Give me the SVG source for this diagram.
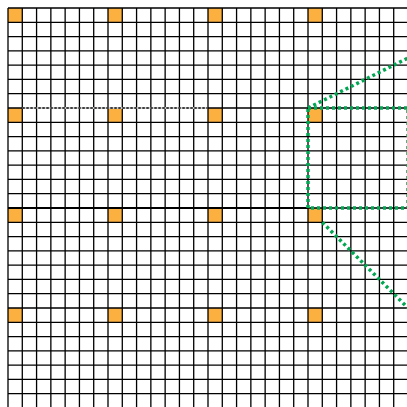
<svg xmlns="http://www.w3.org/2000/svg" width="407" height="407" viewBox="0 0 407 407">
<defs>
<style>
.cell{fill:#fbb040}
.grid{stroke:#000;stroke-width:1.3;fill:none}
.green{stroke:#00a651;stroke-width:3.5;stroke-dasharray:3 3;fill:none}
</style>
</defs>
<rect width="407" height="407" fill="#fff"/>
<g id="cells">
<rect class="cell" x="8" y="8" width="14.29" height="14.29"/>
<rect class="cell" x="108" y="8" width="14.29" height="14.29"/>
<rect class="cell" x="208" y="8" width="14.29" height="14.29"/>
<rect class="cell" x="308" y="8" width="14.29" height="14.29"/>
<rect class="cell" x="8" y="108" width="14.29" height="14.29"/>
<rect class="cell" x="108" y="108" width="14.29" height="14.29"/>
<rect class="cell" x="208" y="108" width="14.29" height="14.29"/>
<rect class="cell" x="308" y="108" width="14.29" height="14.29"/>
<rect class="cell" x="8" y="208" width="14.29" height="14.29"/>
<rect class="cell" x="108" y="208" width="14.29" height="14.29"/>
<rect class="cell" x="208" y="208" width="14.29" height="14.29"/>
<rect class="cell" x="308" y="208" width="14.29" height="14.29"/>
<rect class="cell" x="8" y="308" width="14.29" height="14.29"/>
<rect class="cell" x="108" y="308" width="14.29" height="14.29"/>
<rect class="cell" x="208" y="308" width="14.29" height="14.29"/>
<rect class="cell" x="308" y="308" width="14.29" height="14.29"/>
</g>
<g id="grid">
<path class="grid" d="M8 8V407M22.29 8V407M36.57 8V407M50.86 8V407M65.14 8V407M79.43 8V407M93.71 8V407M108 8V407M122.29 8V407M136.57 8V407M150.86 8V407M165.14 8V407M179.43 8V407M193.71 8V407M208 8V407M222.29 8V407M236.57 8V407M250.86 8V407M265.14 8V407M279.43 8V407M293.71 8V407M308 8V407M322.29 8V407M336.57 8V407M350.86 8V407M365.14 8V407M379.43 8V407M393.71 8V407"/>
<path class="grid" d="M8 8H407M8 22.29H407M8 36.57H407M8 50.86H407M8 65.14H407M8 79.43H407M8 93.71H407M8 108H407M8 122.29H407M8 136.57H407M8 150.86H407M8 165.14H407M8 179.43H407M8 193.71H407M8 208H407M8 222.29H407M8 236.57H407M8 250.86H407M8 265.14H407M8 279.43H407M8 293.71H407M8 308H407M8 322.29H407M8 336.57H407M8 350.86H407M8 365.14H407M8 379.43H407M8 393.71H407"/>
</g>
<g id="lines">
<path d="M22.3 108H208" stroke="#fff" stroke-width="1.6"/>
<path d="M22.3 108H208" stroke="#111" stroke-width="1.4" stroke-dasharray="2.5 1.5"/>
<path d="M8 208H308" stroke="#000" stroke-width="2"/>
</g>
<g id="connectors">
<rect class="green" x="308" y="108" width="100" height="100"/>
<path class="green" d="M308 108L408 58"/>
<path class="green" d="M322.3 222.3L408 308"/>
</g>
</svg>
